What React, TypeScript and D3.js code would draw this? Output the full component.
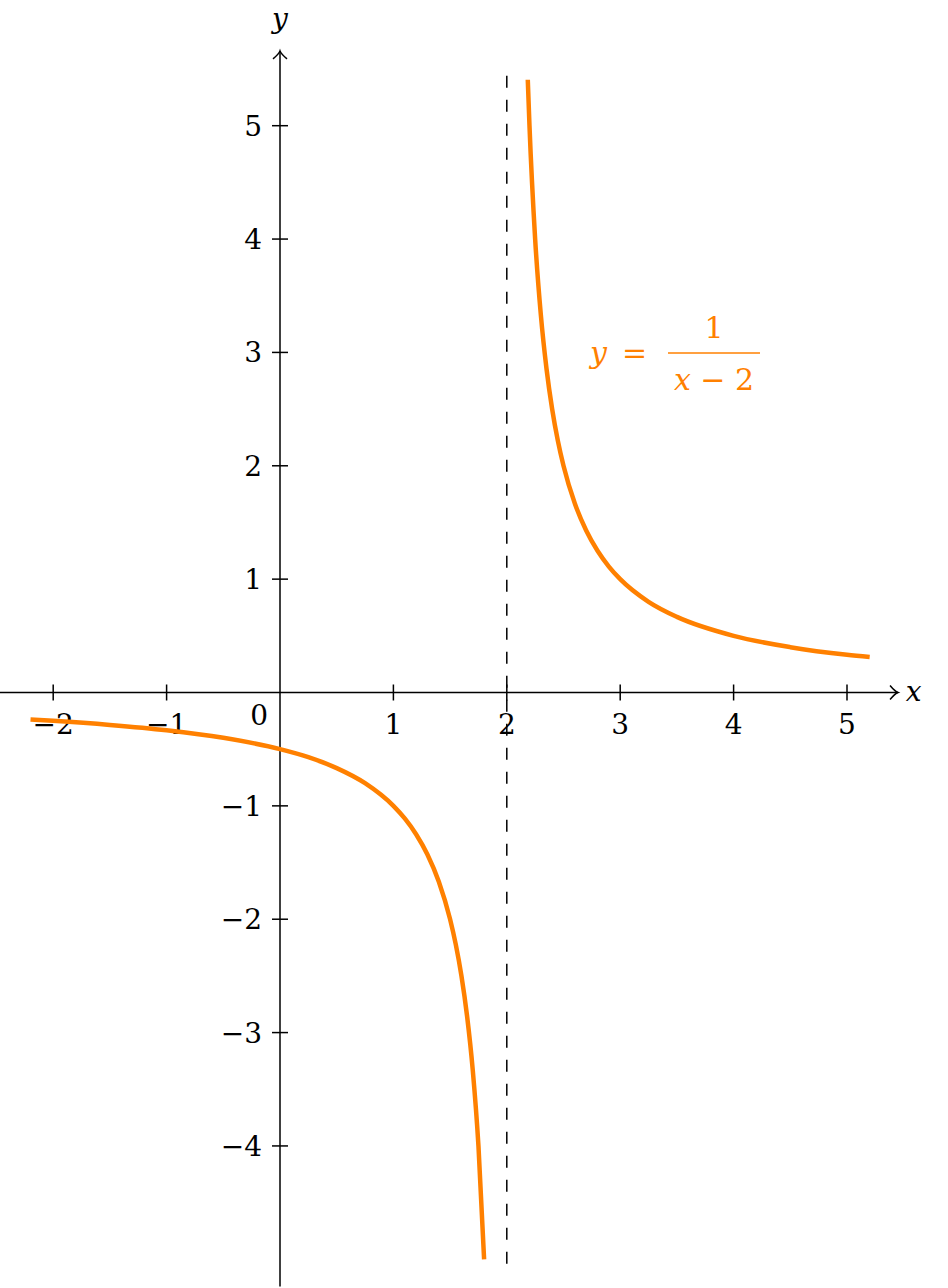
import React from 'react';
import * as d3 from 'd3';

// values
const leftX = [-2.2, -2, -1.5, -1, -0.5, 0, 0.25, 0.5, 0.75, 1, 1.1, 1.2, 1.3, 1.4, 1.5, 1.55, 1.6, 1.65, 1.7, 1.75, 1.8];
const leftY = [-0.238, -0.25, -0.286, -0.333, -0.4, -0.5, -0.571, -0.667, -0.8, -1, -1.111, -1.25, -1.429, -1.667, -2, -2.222, -2.5, -2.857, -3.333, -4, -5];
const rightX = [2.185, 2.2, 2.25, 2.3, 2.35, 2.4, 2.45, 2.5, 2.6, 2.7, 2.8, 2.9, 3, 3.25, 3.5, 4, 4.5, 5, 5.2];
const rightY = [5.405, 5, 4, 3.333, 2.857, 2.5, 2.222, 2, 1.667, 1.429, 1.25, 1.111, 1, 0.8, 0.667, 0.5, 0.4, 0.333, 0.313];

const xTicks = [-2, -1, 1, 2, 3, 4, 5];
const yTicks = [-4, -3, -2, -1, 1, 2, 3, 4, 5];
const asymptoteX = 2;

const orange = '#ff8000';
const fs = 28;

const fmt = (v: number) => String(v).replace('-', '\u2212');

export default function App() {
  const width = 948, height = 1288;
  const x = d3.scaleLinear().domain([0, 5]).range([280, 847]);
  const y = d3.scaleLinear().domain([0, 5]).range([692.5, 125.7]);

  const line = d3.line<[number, number]>()
    .x(d => x(d[0]))
    .y(d => y(d[1]))
    .curve(d3.curveMonotoneX);

  const left = line(leftX.map((v, i) => [v, leftY[i]]));
  const right = line(rightX.map((v, i) => [v, rightY[i]]));

  const x0 = x(0), y0 = y(0);
  const xEnd = x(5.45), yTop = y(5.66);

  return (
    <svg width={width} height={height}
      style={{ position: 'absolute', left: 0, top: 0, background: '#fff', fontFamily: "'DejaVu Serif', serif", fontSize: fs }}>
      {/* axes */}
      <g stroke="#000" strokeWidth={1.5} fill="none">
        <line x1={x(-2.47)} x2={xEnd} y1={y0} y2={y0} />
        <path d={`M${xEnd - 8},${y0 - 7} Q${xEnd - 3},${y0 - 1} ${xEnd},${y0} Q${xEnd - 3},${y0 + 1} ${xEnd - 8},${y0 + 7}`} />
        <line x1={x0} x2={x0} y1={y(-5.24)} y2={yTop} />
        <path d={`M${x0 - 7},${yTop + 8} Q${x0 - 1},${yTop + 3} ${x0},${yTop} Q${x0 + 1},${yTop + 3} ${x0 + 7},${yTop + 8}`} />
        {xTicks.map(t => (
          <line key={'xt' + t} x1={x(t)} x2={x(t)} y1={y0 - 8} y2={y0 + 8} />
        ))}
        {yTicks.map(t => (
          <line key={'yt' + t} x1={x0 - 8} x2={x0 + 8} y1={y(t)} y2={y(t)} />
        ))}
      </g>

      {/* tick labels */}
      <g fill="#000">
        {xTicks.map(t => (
          <text key={'xl' + t} x={x(t)} y={y0 + 41} textAnchor="middle">{fmt(t)}</text>
        ))}
        {yTicks.map(t => (
          <text key={'yl' + t} x={x0 - 18} y={y(t) + 10} textAnchor="end">{fmt(t)}</text>
        ))}
        <text x={x0 - 12} y={y0 + 32} textAnchor="end">0</text>
        <text x={x(5.5) + 2} y={y0 + 8} fontStyle="italic">x</text>
        <text x={x0} y={28} textAnchor="middle" fontStyle="italic">y</text>
      </g>

      {/* asymptote */}
      <line x1={x(asymptoteX)} x2={x(asymptoteX)} y1={y(5.44)} y2={y(-5.1)}
        stroke="#000" strokeWidth={1.5} strokeDasharray="12 12" />

      {/* curve */}
      <g fill="none" stroke={orange} strokeWidth={4.5}>
        <path d={left ?? ''} />
        <path d={right ?? ''} />
      </g>

      {/* equation label */}
      <g fill={orange} fontSize={30}>
        <text x={590} y={363} fontStyle="italic">y</text>
        <text x={622} y={363}>=</text>
        <line x1={668} x2={760} y1={353} y2={353} stroke={orange} strokeWidth={1.5} />
        <text x={714} y={338} textAnchor="middle">1</text>
        <text x={714} y={390} textAnchor="middle">
          <tspan fontStyle="italic">x</tspan>
          <tspan> {'\u2212'} 2</tspan>
        </text>
      </g>
    </svg>
  );
}
